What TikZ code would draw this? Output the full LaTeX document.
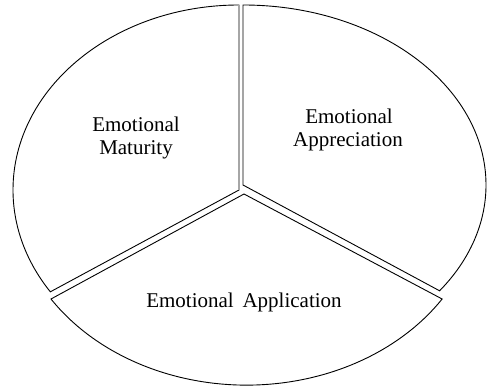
\documentclass[tikz,border=0pt]{standalone}
\usepackage{fontspec}
\setmainfont{Liberation Serif}
\begin{document}
\begin{tikzpicture}[x=1pt,y=1pt,
  sector/.style={draw=black,line width=0.9pt,fill=white,line join=miter},
  lbl/.style={font=\fontsize{21}{24}\selectfont,inner sep=0pt,anchor=base}]
\useasboundingbox (0,0) rectangle (488,388);
% vertices
\coordinate (vL) at (239,198);
\coordinate (vR) at (243,203);
\coordinate (vB) at (244,194);
\coordinate (tL) at (239,383);
\coordinate (tR) at (243,383);
\coordinate (cB) at (51,89);
% left sector
\draw[sector] (vL) -- (tL) arc[start angle=90,end angle=213.4,x radius=226,y radius=185] -- cycle;
\draw[gray!70,line width=2.2pt] (vL) -- (tL);
% right sector
\draw[sector] (vR) -- (tR) arc[start angle=90,end angle=-36,x radius=243,y radius=180] -- cycle;
% bottom sector
\draw[sector] (vB) -- (cB) arc[start angle=213.3,end angle=326.7,x radius=234,y radius=191] -- cycle;
% labels
\node[lbl] (matA) at (136,256) {Emotional};
\node[lbl] (matB) at (136,233) {Maturity};
\node[lbl] (appA) at (349,264) {Emotional};
\node[lbl] (appB) at (348,241) {Appreciation};
\node[lbl] (apl) at (244,80) {Emotional\ \,Application};
\end{tikzpicture}
\end{document}
